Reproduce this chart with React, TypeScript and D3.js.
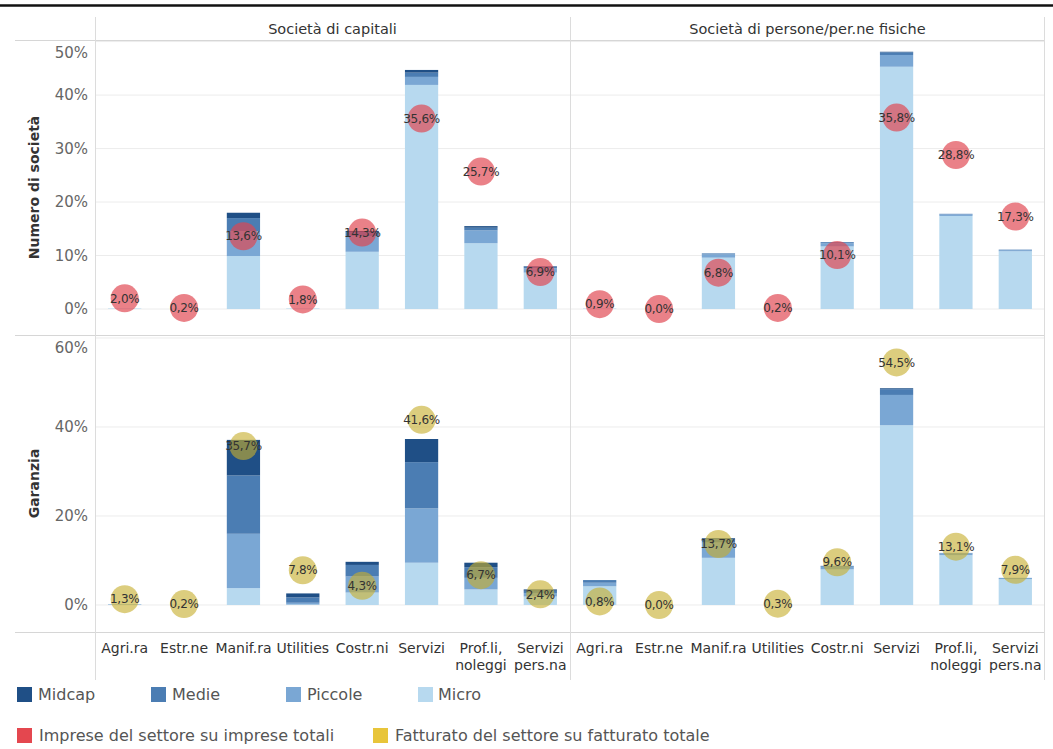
import React from "react";
import * as d3 from "d3";

// Sector categories (x axis), two-line labels where needed
const categories = ["Agri.ra", "Estr.ne", "Manif.ra", "Utilities", "Costr.ni", "Servizi", "Prof.li, noleggi", "Servizi pers.na"];
const categoryLines = [["Agri.ra"], ["Estr.ne"], ["Manif.ra"], ["Utilities"], ["Costr.ni"], ["Servizi"], ["Prof.li,", "noleggi"], ["Servizi", "pers.na"]];

// Column headers and row titles
const columnTitles = ["Società di capitali", "Società di persone/per.ne fisiche"];
const rowTitles = ["Numero di società", "Garanzia"];

// Size classes, stacked bottom to top
const sizeKeys = ["micro", "piccole", "medie", "midcap"];
const sizeNames = ["Midcap", "Medie", "Piccole", "Micro"];

// Numero di società (%) — Società di capitali
const numCapMicro = [0.1, 0.0, 9.9, 0.1, 10.7, 41.9, 12.3, 6.8];
const numCapPiccole = [0.0, 0.0, 4.6, 0.0, 2.9, 1.5, 2.4, 0.8];
const numCapMedie = [0.0, 0.0, 2.5, 0.0, 0.8, 0.8, 0.5, 0.3];
const numCapMidcap = [0.0, 0.0, 1.0, 0.0, 0.2, 0.5, 0.3, 0.1];

// Numero di società (%) — Società di persone/per.ne fisiche
const numPerMicro = [0.1, 0.0, 9.6, 0.0, 11.7, 45.3, 17.4, 10.8];
const numPerPiccole = [0.0, 0.0, 0.6, 0.0, 0.6, 2.2, 0.3, 0.2];
const numPerMedie = [0.0, 0.0, 0.2, 0.0, 0.2, 0.5, 0.1, 0.1];
const numPerMidcap = [0.0, 0.0, 0.0, 0.0, 0.0, 0.1, 0.0, 0.0];

// Garanzia (%) — Società di capitali
const garCapMicro = [0.1, 0.0, 3.8, 0.1, 2.8, 9.5, 3.5, 1.9];
const garCapPiccole = [0.1, 0.0, 12.2, 0.4, 3.6, 12.2, 2.6, 0.8];
const garCapMedie = [0.0, 0.0, 13.1, 1.2, 2.6, 10.4, 2.4, 0.5];
const garCapMidcap = [0.0, 0.0, 8.0, 0.9, 0.7, 5.2, 1.0, 0.3];

// Garanzia (%) — Società di persone/per.ne fisiche
const garPerMicro = [4.2, 0.0, 10.6, 0.0, 8.0, 40.4, 11.2, 5.8];
const garPerPiccole = [0.8, 0.0, 3.4, 0.0, 0.6, 6.8, 0.4, 0.3];
const garPerMedie = [0.6, 0.0, 0.8, 0.0, 0.2, 1.3, 0.1, 0.0];
const garPerMidcap = [0.0, 0.0, 0.2, 0.0, 0.0, 0.2, 0.0, 0.0];

// Circle markers: share of firms and share of turnover by sector
const impreseCap = [2.0, 0.2, 13.6, 1.8, 14.3, 35.6, 25.7, 6.9];
const impresePers = [0.9, 0.0, 6.8, 0.2, 10.1, 35.8, 28.8, 17.3];
const fatturatoCap = [1.3, 0.2, 35.7, 7.8, 4.3, 41.6, 6.7, 2.4];
const fatturatoPers = [0.8, 0.0, 13.7, 0.3, 9.6, 54.5, 13.1, 7.9];

// Axis ticks per row
const numTicks = [0, 10, 20, 30, 40, 50];
const garTicks = [0, 20, 40, 60];

const sizeColors: Record<string, string> = {
  midcap: "#1f4f86",
  medie: "#4b7db3",
  piccole: "#7aa7d4",
  micro: "#b7d9ef",
};
const redColor = "#e4474f";
const goldColor = "#e8c53a";
const redDot = "#e0464f";
const goldDot = "#c7ae2e";

const W = 1053;
const H = 749;
const FONT = "'DejaVu Sans', sans-serif";

const fmt = (v: number) => d3.format(".1f")(v).replace(".", ",") + "%";

function buildRows(micro: number[], piccole: number[], medie: number[], midcap: number[]) {
  return categories.map((c, i) => ({ cat: c, micro: micro[i], piccole: piccole[i], medie: medie[i], midcap: midcap[i] }));
}

export default function App() {
  const cols = [
    { x0: 95, x1: 570 },
    { x0: 570, x1: 1045 },
  ];
  const rows = [
    { y0: 40, y1: 335, domain: [-4.86, 50.3], ticks: numTicks },
    { y0: 335, y1: 632, domain: [-6.07, 60.67], ticks: garTicks },
  ];

  const cells = [
    { r: 0, c: 0, bars: buildRows(numCapMicro, numCapPiccole, numCapMedie, numCapMidcap), dots: impreseCap, dotColor: redDot, op: 0.68 },
    { r: 0, c: 1, bars: buildRows(numPerMicro, numPerPiccole, numPerMedie, numPerMidcap), dots: impresePers, dotColor: redDot, op: 0.68 },
    { r: 1, c: 0, bars: buildRows(garCapMicro, garCapPiccole, garCapMedie, garCapMidcap), dots: fatturatoCap, dotColor: goldDot, op: 0.62 },
    { r: 1, c: 1, bars: buildRows(garPerMicro, garPerPiccole, garPerMedie, garPerMidcap), dots: fatturatoPers, dotColor: goldDot, op: 0.62 },
  ];

  const stack = d3.stack<any>().keys(sizeKeys);

  const xScales = cols.map((c) =>
    d3.scaleBand<string>().domain(categories).range([c.x0, c.x1]).paddingInner(0.44).paddingOuter(0.22)
  );
  const yScales = rows.map((r) => d3.scaleLinear().domain(r.domain).range([r.y1, r.y0]));

  const legendRow1 = [
    { name: sizeNames[0], color: sizeColors.midcap, x: 17, tx: 38 },
    { name: sizeNames[1], color: sizeColors.medie, x: 151, tx: 172 },
    { name: sizeNames[2], color: sizeColors.piccole, x: 286, tx: 307 },
    { name: sizeNames[3], color: sizeColors.micro, x: 418, tx: 438 },
  ];
  const legendRow2 = [
    { name: "Imprese del settore su imprese totali", color: redColor, x: 17, tx: 39 },
    { name: "Fatturato del settore su fatturato totale", color: goldColor, x: 373, tx: 395 },
  ];

  return (
    <svg width={W} height={H} style={{ position: "absolute", left: 0, top: 0, background: "#fff" }} fontFamily={FONT}>
      <rect x={0} y={0} width={W} height={H} fill="#fff" />
      {/* top rule */}
      <line x1={0} x2={W} y1={5.5} y2={5.5} stroke="#111" strokeWidth={2.5} />

      {/* gridlines */}
      {rows.map((r, ri) =>
        r.ticks.map((t) => (
          <line key={`g${ri}-${t}`} x1={95} x2={1045} y1={yScales[ri](t)} y2={yScales[ri](t)} stroke="#ececec" strokeWidth={1} />
        ))
      )}

      {/* frame lines */}
      <line x1={15} x2={1045} y1={40.5} y2={40.5} stroke="#d6d6d6" />
      <line x1={15} x2={1045} y1={335.5} y2={335.5} stroke="#d6d6d6" />
      <line x1={15} x2={1045} y1={632.5} y2={632.5} stroke="#d6d6d6" />
      {[95.5, 570.5, 1044.5].map((x) => (
        <line key={`v${x}`} x1={x} x2={x} y1={17} y2={680} stroke="#dcdcdc" />
      ))}

      {/* column headers */}
      {cols.map((c, i) => (
        <text key={`ct${i}`} x={(c.x0 + c.x1) / 2} y={34} textAnchor="middle" fontSize={14.5} fill="#333">
          {columnTitles[i]}
        </text>
      ))}

      {/* row titles */}
      {rows.map((r, i) => (
        <text
          key={`rt${i}`}
          transform={`translate(39,${(r.y0 + r.y1) / 2}) rotate(-90)`}
          textAnchor="middle"
          fontSize={14}
          fontWeight="bold"
          fill="#333"
        >
          {rowTitles[i]}
        </text>
      ))}

      {/* y tick labels */}
      {rows.map((r, ri) =>
        r.ticks.map((t) => (
          <text
            key={`yt${ri}-${t}`}
            x={88}
            y={Math.max(yScales[ri](t), r.y0 + 12.5)}
            dy="0.35em"
            textAnchor="end"
            fontSize={15}
            fill="#666"
          >
            {t}%
          </text>
        ))
      )}

      {/* stacked bars */}
      {cells.map((cell, ci) => {
        const xs = xScales[cell.c];
        const ys = yScales[cell.r];
        const series = stack(cell.bars);
        return (
          <g key={`bars${ci}`}>
            {series.map((s) =>
              s.map((d, i) => (
                <rect
                  key={`${s.key}-${i}`}
                  x={xs(categories[i])}
                  width={xs.bandwidth()}
                  y={ys(d[1])}
                  height={Math.max(0, ys(d[0]) - ys(d[1]))}
                  fill={sizeColors[s.key]}
                />
              ))
            )}
          </g>
        );
      })}

      {/* circle markers with value labels */}
      {cells.map((cell, ci) => {
        const xs = xScales[cell.c];
        const ys = yScales[cell.r];
        return (
          <g key={`dots${ci}`}>
            {cell.dots.map((v, i) => {
              const cx = (xs(categories[i]) as number) + xs.bandwidth() / 2;
              const cy = ys(v);
              return (
                <g key={`d${i}`}>
                  <circle cx={cx} cy={cy} r={14} fill={cell.dotColor} fillOpacity={cell.op} />
                  <text x={cx} y={cy} dy="0.35em" textAnchor="middle" fontSize={12} fill="#333" letterSpacing={-0.3}>
                    {fmt(v)}
                  </text>
                </g>
              );
            })}
          </g>
        );
      })}

      {/* x axis labels */}
      {cols.map((c, ci) =>
        categories.map((cat, i) => {
          const xs = xScales[ci];
          const cx = (xs(cat) as number) + xs.bandwidth() / 2;
          return (
            <text key={`xl${ci}-${i}`} x={cx} y={653} textAnchor="middle" fontSize={14} fill="#333">
              {categoryLines[i].map((line, li) => (
                <tspan key={li} x={cx} dy={li === 0 ? 0 : 16.5}>
                  {line}
                </tspan>
              ))}
            </text>
          );
        })
      )}

      {/* legends */}
      {legendRow1.map((l) => (
        <g key={l.name}>
          <rect x={l.x} y={687} width={15} height={15} fill={l.color} />
          <text x={l.tx} y={694.5} dy="0.35em" fontSize={16} fill="#555">
            {l.name}
          </text>
        </g>
      ))}
      {legendRow2.map((l) => (
        <g key={l.name}>
          <rect x={l.x} y={728} width={15} height={15} fill={l.color} />
          <text x={l.tx} y={735.5} dy="0.35em" fontSize={16} fill="#555">
            {l.name}
          </text>
        </g>
      ))}
    </svg>
  );
}
